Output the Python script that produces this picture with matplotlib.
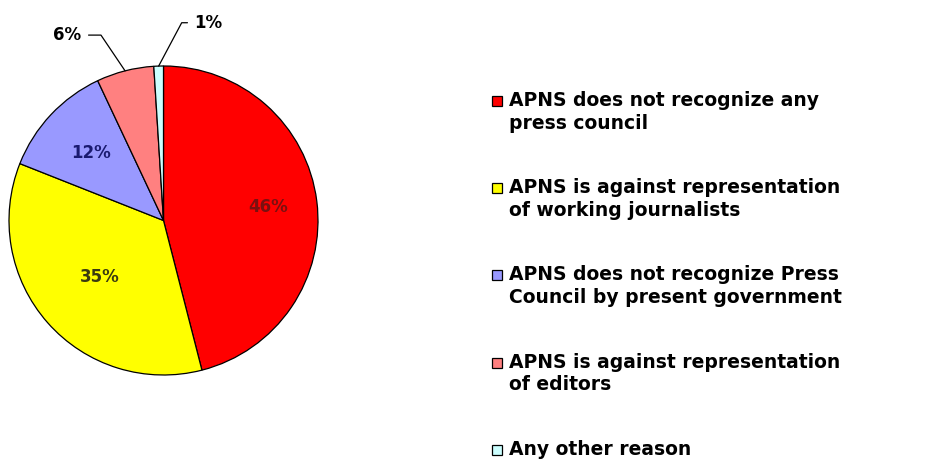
import matplotlib
matplotlib.use("Agg")
import matplotlib.pyplot as plt
import matplotlib.patches as mpatches
import numpy as np

categories = [
    "APNS does not recognize any\npress council",
    "APNS is against representation\nof working journalists",
    "APNS does not recognize Press\nCouncil by present government",
    "APNS is against representation\nof editors",
    "Any other reason",
]
values = [46, 35, 12, 6, 1]
pct_labels = ["46%", "35%", "12%", "6%", "1%"]
colors = ["#FF0000", "#FFFF00", "#9999FF", "#FF8080", "#CCFFFF"]
label_colors = ["#7a1010", "#3a3a10", "#1a1a70", "black", "black"]

W, H = 951, 466
fig = plt.figure(figsize=(W / 100, H / 100), dpi=100)
fig.patch.set_facecolor("white")

cx, cy, r = 163.5, 220.5, 154.5
ax = fig.add_axes([(cx - r) / W, (H - cy - r) / H, 2 * r / W, 2 * r / H])
wedges, _ = ax.pie(values, colors=colors, startangle=90, counterclock=False,
                   wedgeprops=dict(edgecolor="black", linewidth=0.9),
                   radius=1.0)
ax.set_xlim(-1, 1)
ax.set_ylim(-1, 1)
ax.set_aspect("auto")
ax.axis("off")

# inside labels
inside_r = [0.68, 0.55, 0.64]
total = sum(values)
cum = 0
mids = []
for v in values:
    mid = 90 - 360 * (cum + v / 2) / total
    mids.append(np.deg2rad(mid))
    cum += v

for i in range(3):
    a = mids[i]
    ax.text(inside_r[i] * np.cos(a), inside_r[i] * np.sin(a), pct_labels[i],
            ha="center", va="center", fontsize=12, fontweight="bold",
            color=label_colors[i], clip_on=False)

# outside labels with leader lines
out_text = {3: (-0.53, 1.20, "right", -56), 4: (0.20, 1.28, "left", 62)}
for i, (tx, ty, ha, angB) in out_text.items():
    a = mids[i]
    px, py = np.cos(a), np.sin(a)
    ax.annotate(pct_labels[i], xy=(px, py), xytext=(tx, ty),
                ha=ha, va="center", fontsize=12, fontweight="bold",
                color=label_colors[i], annotation_clip=False,
                arrowprops=dict(arrowstyle="-", color="black", lw=0.9,
                                shrinkA=3, shrinkB=0,
                                connectionstyle=f"angle,angleA=0,angleB={angB},rad=0"))

# legend drawn manually: marker aligned with first line of each entry
lx, ly0, pitch, sq = 492, 101, 87.2, 10
for i, (c, lab) in enumerate(zip(colors, categories)):
    y = ly0 + i * pitch
    fig.patches.append(mpatches.Rectangle(
        (lx / W, 1 - (y + sq / 2) / H), sq / W, sq / H,
        transform=fig.transFigure, facecolor=c, edgecolor="black",
        linewidth=0.9, figure=fig))
    fig.text((lx + sq + 7) / W, 1 - (y - 10) / H, lab, ha="left", va="top",
             fontsize=13.5, fontweight="bold", linespacing=1.25)

fig.savefig("out.png", dpi=100, facecolor="white")
